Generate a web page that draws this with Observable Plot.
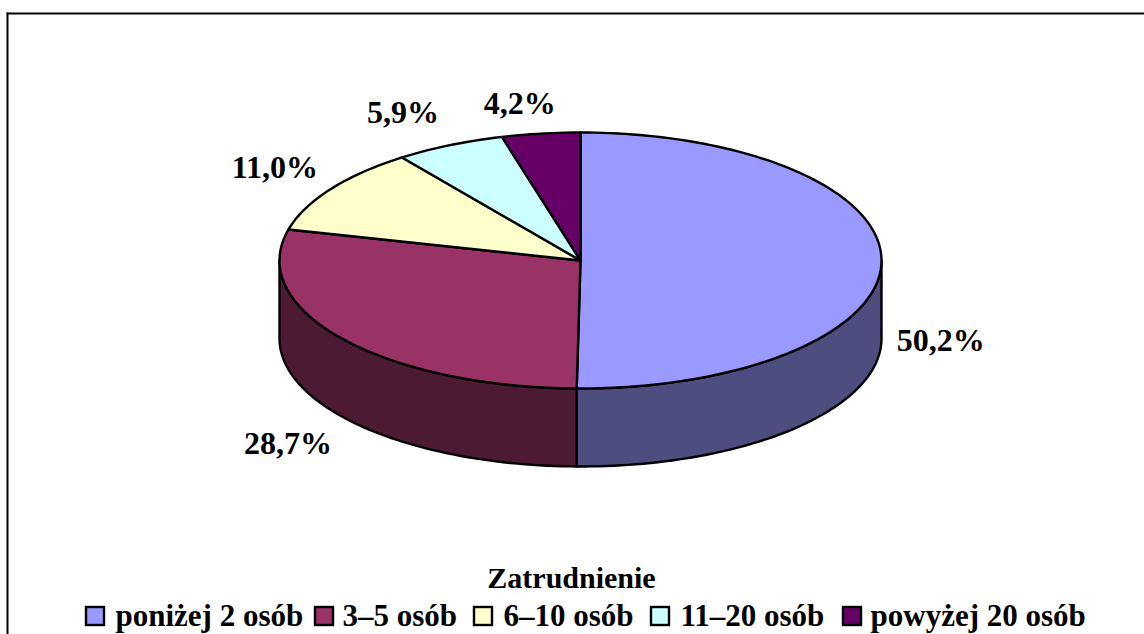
<!DOCTYPE html>
<html><head><meta charset="utf-8">
<style>html,body{margin:0;padding:0;background:#fff}svg{display:block}</style>
<script src="https://cdn.jsdelivr.net/npm/d3@7"></script>
<script src="https://cdn.jsdelivr.net/npm/@observablehq/plot@0.6"></script>
</head><body>
<script>
const categories = ["poniżej 2 osób", "3–5 osób", "6–10 osób", "11–20 osób", "powyżej 20 osób"];
const shares = [50.2, 28.7, 11.0, 5.9, 4.2];
const shareLabels = ["50,2%", "28,7%", "11,0%", "5,9%", "4,2%"];
const topColors = ["#9999FF", "#993366", "#FFFFCC", "#CCFFFF", "#660066"];
const sideColors = ["#4D4D80", "#4D1A33", "#80804D", "#4D8080", "#330033"];
const legendTitle = "Zatrudnienie";

// layout (pixels of the page; kept apart from the data)
const W = 1144, H = 634, cx = 580, cy = 260, rx = 301, ry = 128, depth = 78 / ry;
const ux = px => (px - cx) / rx, uy = py => (cy - py) / ry;
const labelShift = [[.197, -.62], [-.18, -.82], [-.185, .17], [-.155, .25], [-.07, .23]];
const swatchLeft = [86, 315, 474, 651, 843], textLeft = [115, 342, 503, 680, 870];

const total = d3.sum(shares);
let acc = 0;
const slices = shares.map((v, i) => {
  const a0 = acc / total * 2 * Math.PI; acc += v;
  return {i, a0, a1: acc / total * 2 * Math.PI};
});
const arc = (a0, a1) => {
  const n = Math.max(2, Math.ceil((a1 - a0) * 40));
  return d3.range(n + 1).map(k => a0 + (a1 - a0) * k / n);
};
const pt = (a, drop = 0) => ({x: Math.sin(a), y: Math.cos(a) - drop});

const tops = slices.flatMap(s => {
  const ring = [{x: 0, y: 0}, ...arc(s.a0, s.a1).map(a => pt(a)), {x: 0, y: 0}];
  return ring.map(p => ({...p, z: s.i, color: topColors[s.i]}));
});
const walls = slices.flatMap(s => {
  const a0 = Math.max(s.a0, Math.PI / 2), a1 = Math.min(s.a1, 3 * Math.PI / 2);
  if (a1 <= a0) return [];
  const as = arc(a0, a1);
  const ring = [...as.map(a => pt(a)), ...as.slice().reverse().map(a => pt(a, depth)), pt(a0)];
  return ring.map(p => ({...p, z: s.i, color: sideColors[s.i]}));
});
const labels = slices.map(s => {
  const m = (s.a0 + s.a1) / 2;
  return {x: Math.sin(m) + labelShift[s.i][0], y: Math.cos(m) + labelShift[s.i][1], text: shareLabels[s.i]};
});
const legend = categories.map((c, i) => ({
  c, color: topColors[i],
  x1: ux(swatchLeft[i]), x2: ux(swatchLeft[i] + 18), y1: uy(607), y2: uy(625),
  tx: ux(textLeft[i]), ty: uy(616)
}));

const font = {fontFamily: "Liberation Serif", fontWeight: "bold"};
const chart = Plot.plot({
  width: W, height: H, marginLeft: 7, marginTop: 13, marginRight: 0, marginBottom: 0,
  x: {domain: [-1, 1], range: [cx - rx, cx + rx], axis: null},
  y: {domain: [1, -1], range: [cy - ry, cy + ry], axis: null},
  marks: [
    Plot.frame({anchor: "top", stroke: "#000", strokeWidth: 2}),
    Plot.frame({anchor: "left", stroke: "#000", strokeWidth: 2}),
    Plot.line(walls, {x: "x", y: "y", z: "z", fill: "color", stroke: "#000", strokeWidth: 2.4, strokeLinejoin: "round"}),
    Plot.line(tops, {x: "x", y: "y", z: "z", fill: "color", stroke: "#000", strokeWidth: 2.4, strokeLinejoin: "round"}),
    Plot.text(labels, {x: "x", y: "y", text: "text", fontSize: 32, fill: "#000", ...font}),
    Plot.text([legendTitle], {x: ux(571), y: uy(578), text: d => d, fontSize: 30, fill: "#000", ...font}),
    Plot.rect(legend, {x1: "x1", x2: "x2", y1: "y1", y2: "y2", fill: "color", stroke: "#000", strokeWidth: 2.4}),
    Plot.text(legend, {x: "tx", y: "ty", text: "c", textAnchor: "start", fontSize: 31, fill: "#000", ...font})
  ]
});
document.body.appendChild(chart);
</script>
</body></html>
